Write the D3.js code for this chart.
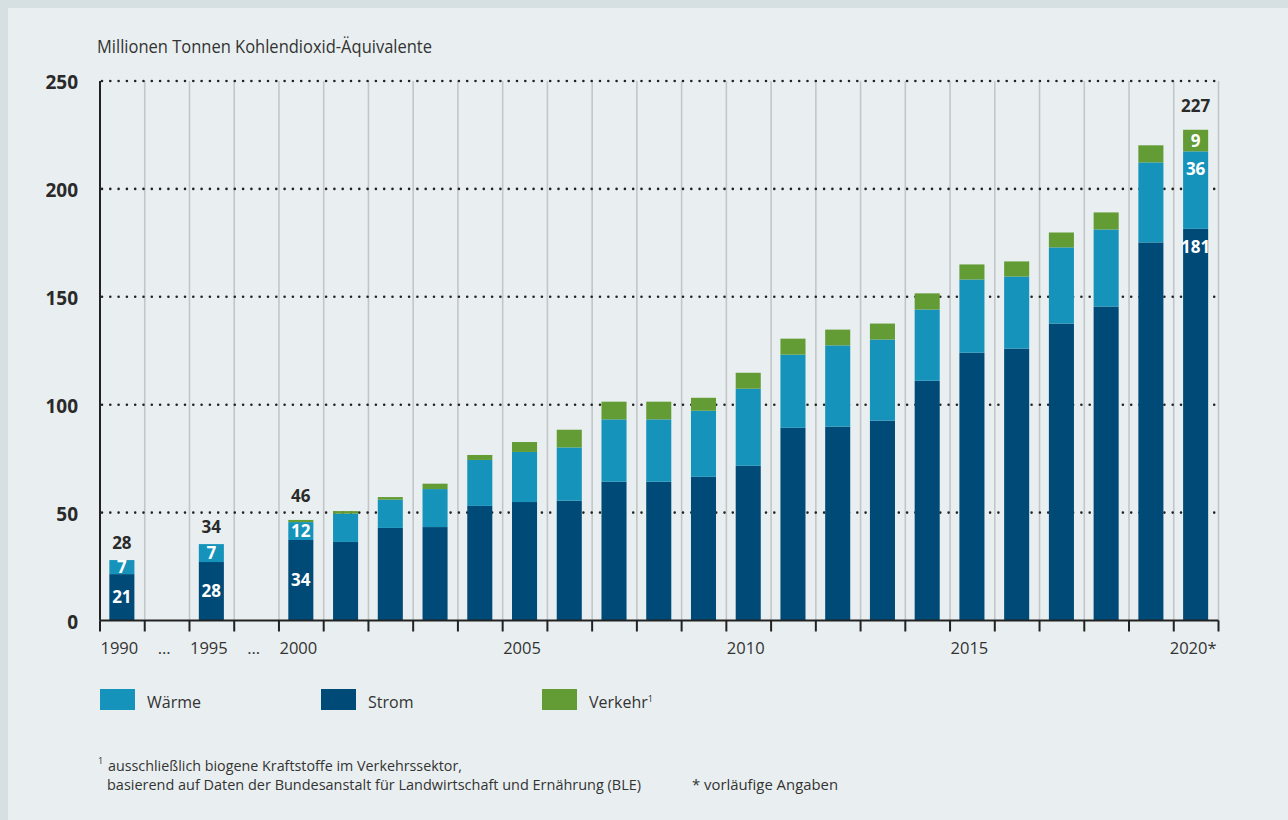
<!DOCTYPE html>
<html>
<head>
<meta charset="utf-8">
<script src="https://cdn.jsdelivr.net/npm/d3@7"></script>
<style>
  body { margin: 0; background: #e9eff0; }
  text { font-family: "Open Sans", "DejaVu Sans", sans-serif; }
</style>
</head>
<body>
<div id="chart"></div>
<script>
// slots along the x axis (two gaps for the skipped years)
var slots = ["1990", "gap1", "1995", "gap2", "2000", "2001", "2002", "2003", "2004", "2005",
  "2006", "2007", "2008", "2009", "2010", "2011", "2012", "2013", "2014", "2015",
  "2016", "2017", "2018", "2019", "2020"];
var xTickLabels = {"1990": "1990", "gap1": "…", "1995": "1995", "gap2": "…", "2000": "2000",
  "2005": "2005", "2010": "2010", "2015": "2015", "2020": "2020*"};

// years with bars
var years = ["1990", "1995", "2000", "2001", "2002", "2003", "2004", "2005", "2006", "2007",
  "2008", "2009", "2010", "2011", "2012", "2013", "2014", "2015", "2016", "2017",
  "2018", "2019", "2020"];
var strom   = [21.5, 27.1, 37.3, 36.4, 42.9, 43.3, 53.1, 54.9, 55.5, 64.3, 64.3, 66.6, 71.7,
  89.3, 89.8, 92.6, 111.1, 124.1, 126.0, 137.6, 145.5, 175.2, 181.5];
var waerme  = [6.5, 8.3, 8.3, 13.1, 13.1, 17.6, 21.3, 23.2, 24.7, 28.9, 28.9, 30.6, 35.7,
  33.9, 37.7, 37.6, 33.0, 33.9, 33.4, 35.3, 35.7, 37.1, 35.9];
var verkehr = [0, 0, 1.0, 1.2, 1.2, 2.5, 2.3, 4.6, 8.2, 8.2, 8.2, 6.0, 7.4,
  7.4, 7.3, 7.4, 7.5, 7.0, 7.0, 6.9, 7.9, 7.9, 10.0];

// printed value labels
var labelYears    = ["1990", "1995", "2000", "2020"];
var stromLabels   = ["21", "28", "34", "181"];
var waermeLabels  = ["7", "7", "12", "36"];
var verkehrLabels = [null, null, null, "9"];
var totalLabels   = ["28", "34", "46", "227"];

var yTicks = [0, 50, 100, 150, 200, 250];

var keys = ["Wärme", "Strom", "Verkehr"];
var colors = {"Wärme": "#1593ba", "Strom": "#004a77", "Verkehr": "#639b34"};

var width = 1288, height = 820;

var svg = d3.select("#chart").append("svg")
  .attr("width", width)
  .attr("height", height);

// background + frame
svg.append("rect").attr("width", width).attr("height", height).attr("fill", "#e9eff0");
svg.append("rect").attr("width", width).attr("height", 8).attr("fill", "#d6dfe2");
svg.append("rect").attr("width", 8).attr("height", height).attr("fill", "#d6dfe2");

var x = d3.scaleBand()
  .domain(slots)
  .range([100, 1218.5])
  .padding(0);

var y = d3.scaleLinear()
  .domain([0, 250])
  .range([620.5, 81]);

var barW = x.bandwidth() * 0.56;

// title
svg.append("text")
  .attr("x", 97).attr("y", 53)
  .attr("font-size", 18.5)
  .attr("fill", "#333")
  .attr("textLength", 335).attr("lengthAdjust", "spacingAndGlyphs")
  .text("Millionen Tonnen Kohlendioxid-Äquivalente");

// vertical grid lines
svg.append("g").selectAll("line")
  .data(slots.slice(1).concat(["end"]))
  .enter().append("line")
    .attr("x1", function(d) { return d == "end" ? x.range()[1] : x(d); })
    .attr("x2", function(d) { return d == "end" ? x.range()[1] : x(d); })
    .attr("y1", y(250))
    .attr("y2", y(0))
    .attr("stroke", "#c3c6c8")
    .attr("stroke-width", 1.6);

// dotted horizontal grid
svg.append("g").selectAll("line")
  .data(yTicks.slice(1))
  .enter().append("line")
    .attr("x1", 102).attr("x2", 1222)
    .attr("y1", function(d) { return y(d); })
    .attr("y2", function(d) { return y(d); })
    .attr("stroke", "#222")
    .attr("stroke-width", 2.6)
    .attr("stroke-linecap", "round")
    .attr("stroke-dasharray", "0,8.3");

// y labels
svg.append("g").selectAll("text")
  .data(yTicks)
  .enter().append("text")
    .attr("x", 78)
    .attr("y", function(d) { return y(d) + 8; })
    .attr("text-anchor", "end")
    .attr("font-size", 19)
    .attr("font-weight", "bold")
    .attr("fill", "#2a2a2a")
    .text(function(d) { return d; });

// stacked bars
var table = years.map(function(yr, i) {
  return {year: yr, "Wärme": waerme[i], "Strom": strom[i], "Verkehr": verkehr[i]};
});
var stacked = d3.stack().keys(["Strom", "Wärme", "Verkehr"])(table);

svg.append("g").selectAll("g")
  .data(stacked)
  .enter().append("g")
    .attr("fill", function(d) { return colors[d.key]; })
  .selectAll("rect")
  .data(function(d) { return d.filter(function(s) { return s[1] - s[0] > 0; }); })
  .enter().append("rect")
    .attr("x", function(d) { return x(d.data.year) + (x.bandwidth() - barW) / 2 - 0.5; })
    .attr("y", function(d) { return y(d[1]); })
    .attr("width", barW)
    .attr("height", function(d) { return y(d[0]) - y(d[1]); });

// x axis line + ticks at slot edges
svg.append("line")
  .attr("x1", 100).attr("x2", x.range()[1])
  .attr("y1", y(0)).attr("y2", y(0))
  .attr("stroke", "#222").attr("stroke-width", 2);
svg.append("g").selectAll("line")
  .data(slots.concat(["end"]))
  .enter().append("line")
    .attr("x1", function(d) { return d == "end" ? x.range()[1] : x(d); })
    .attr("x2", function(d) { return d == "end" ? x.range()[1] : x(d); })
    .attr("y1", y(0)).attr("y2", y(0) + 11)
    .attr("stroke", "#222").attr("stroke-width", 2);
// left axis
svg.append("line")
  .attr("x1", 100).attr("x2", 100)
  .attr("y1", y(250)).attr("y2", y(0))
  .attr("stroke", "#222").attr("stroke-width", 2);

var xAxis = svg.append("g")
  .attr("transform", "translate(-3," + y(0) + ")")
  .call(d3.axisBottom(x)
    .tickValues(Object.keys(xTickLabels))
    .tickSize(0)
    .tickPadding(22)
    .tickFormat(function(d) { return xTickLabels[d]; }));
xAxis.select(".domain").remove();
xAxis.selectAll("text")
  .attr("font-size", 16.5)
  .attr("fill", "#333")
  .style("font-family", "'Open Sans', sans-serif");

// value labels
var lbl = svg.append("g").attr("font-weight", "bold").attr("font-size", 17).attr("text-anchor", "middle");
labelYears.forEach(function(yr, j) {
  var i = years.indexOf(yr);
  var cx = x(yr) + x.bandwidth() / 2 - 0.5;
  var last = j == labelYears.length - 1;
  var segs = [
    [stromLabels[j], 0, strom[i]],
    [waermeLabels[j], strom[i], strom[i] + waerme[i]],
    [verkehrLabels[j], strom[i] + waerme[i], strom[i] + waerme[i] + verkehr[i]]
  ];
  segs.forEach(function(s) {
    if (!s[0]) return;
    var top = y(s[2]), bot = y(s[1]);
    var mid = (last && bot - top > 40) ? top + 18 : (top + bot) / 2;
    lbl.append("text")
      .attr("x", cx).attr("y", mid + 6)
      .attr("fill", "#fff")
      .text(s[0]);
  });
  var total = strom[i] + waerme[i] + verkehr[i];
  lbl.append("text")
    .attr("x", cx)
    .attr("y", y(total) - (verkehr[i] > 0 ? 18 : 11))
    .attr("fill", "#2a2a2a")
    .text(totalLabels[j]);
});

// legend
var leg = svg.append("g").selectAll("g")
  .data(keys)
  .enter().append("g")
    .attr("transform", function(d, i) { return "translate(" + (100 + i * 221) + ",689)"; });
leg.append("rect")
  .attr("width", 35).attr("height", 21)
  .attr("fill", function(d) { return colors[d]; });
var legText = leg.append("text")
  .attr("x", 47).attr("y", 19)
  .attr("font-size", 16)
  .attr("fill", "#333")
  .text(function(d) { return d; });
legText.filter(function(d) { return d == "Verkehr"; })
  .append("tspan")
    .attr("dy", -6)
    .attr("font-size", 9)
    .text("1");

// footnotes
var fn = svg.append("g").attr("font-size", 14).attr("fill", "#333");
fn.append("text").attr("x", 98).attr("y", 764).attr("font-size", 9).text("1");
fn.append("text").attr("x", 108).attr("y", 771)
  .attr("textLength", 354).attr("lengthAdjust", "spacingAndGlyphs")
  .text("ausschließlich biogene Kraftstoffe im Verkehrssektor,");
fn.append("text").attr("x", 107).attr("y", 790)
  .attr("textLength", 534).attr("lengthAdjust", "spacingAndGlyphs")
  .text("basierend auf Daten der Bundesanstalt für Landwirtschaft und Ernährung (BLE)");
fn.append("text").attr("x", 692).attr("y", 790)
  .attr("textLength", 146).attr("lengthAdjust", "spacingAndGlyphs")
  .text("* vorläufige Angaben");
</script>
</body>
</html>
